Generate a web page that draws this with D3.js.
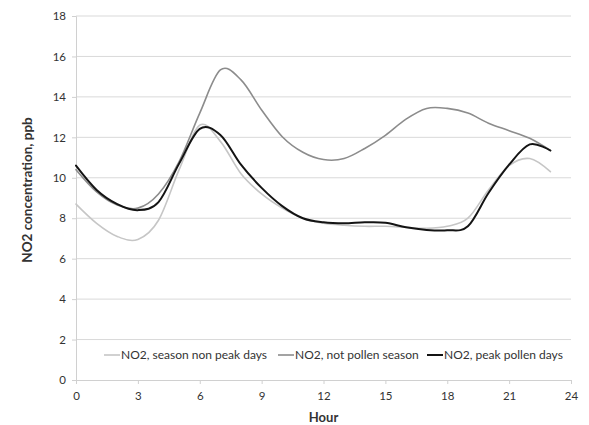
<!DOCTYPE html>
<html>
<head>
<meta charset="utf-8">
<script src="https://cdn.jsdelivr.net/npm/d3@7"></script>
<style>
  html, body { margin: 0; padding: 0; background: #fff; }
  svg { display: block; }
  text { font-family: Lato, "Open Sans", sans-serif; fill: #333; }
</style>
</head>
<body>
<svg id="chart" width="589" height="425"></svg>
<script>
const hours = d3.range(0, 24);
const seriesNames = ["NO2, season non peak days", "NO2, not pollen season", "NO2, peak pollen days"];
const seasonNonPeak = [8.7, 7.75, 7.1, 6.95, 7.9, 10.4, 12.6, 11.8, 10.2, 9.2, 8.5, 8.0, 7.75, 7.65, 7.6, 7.6, 7.55, 7.5, 7.6, 8.0, 9.4, 10.6, 10.95, 10.3];
const notPollen = [10.4, 9.3, 8.65, 8.5, 9.2, 10.8, 13.2, 15.33, 14.84, 13.35, 12.03, 11.26, 10.9, 10.95, 11.45, 12.1, 12.9, 13.43, 13.43, 13.2, 12.7, 12.33, 11.95, 11.35];
const peakPollen = [10.6, 9.4, 8.7, 8.4, 8.8, 10.7, 12.42, 12.12, 10.65, 9.5, 8.6, 8.0, 7.8, 7.75, 7.8, 7.78, 7.55, 7.42, 7.4, 7.6, 9.25, 10.65, 11.65, 11.35];
const xTicks = [0, 3, 6, 9, 12, 15, 18, 21, 24];
const yTicks = [0, 2, 4, 6, 8, 10, 12, 14, 16, 18];
const colors = ["#c6c6c6", "#8c8c8c", "#141414"];
const widths = [1.6, 1.6, 2.0];

const svg = d3.select("#chart");
const m = { left: 76, right: 571, top: 16, bottom: 380 };
const x = d3.scaleLinear().domain([0, 24]).range([m.left, m.right]);
const y = d3.scaleLinear().domain([0, 18]).range([m.bottom, m.top]);

// gridlines
svg.append("g").selectAll("line").data(yTicks.filter(d => d > 0)).join("line")
  .attr("x1", m.left).attr("x2", m.right)
  .attr("y1", d => y(d)).attr("y2", d => y(d))
  .attr("stroke", "#d9d9d9").attr("stroke-width", 1);

// y axis
const yAxis = svg.append("g").attr("transform", `translate(${m.left},0)`)
  .call(d3.axisLeft(y).tickValues(yTicks).tickSize(4).tickPadding(6));
yAxis.select(".domain").attr("stroke", "#d0d0d0");
yAxis.selectAll(".tick line").attr("stroke", "#d0d0d0");
yAxis.selectAll(".tick text").style("font-size", "11.5px").attr("fill", "#333");

// x axis
const xAxis = svg.append("g").attr("transform", `translate(0,${m.bottom})`)
  .call(d3.axisBottom(x).tickValues(xTicks).tickSize(4).tickPadding(8));
xAxis.select(".domain").attr("stroke", "#d0d0d0");
xAxis.selectAll(".tick line").attr("stroke", "#d0d0d0");
xAxis.selectAll(".tick text").style("font-size", "11.5px").attr("fill", "#333");

// lines
const line = d3.line().x((d, i) => x(hours[i])).y(d => y(d)).curve(d3.curveCatmullRom.alpha(0));
const allSeries = [seasonNonPeak, notPollen, peakPollen];
svg.append("g").selectAll("path").data(allSeries).join("path")
  .attr("d", d => line(d))
  .attr("fill", "none")
  .attr("stroke", (d, i) => colors[i])
  .attr("stroke-width", (d, i) => widths[i])
  .attr("stroke-linejoin", "round").attr("stroke-linecap", "round");

// legend
const legendX = [104, 278, 427];
const lg = svg.append("g").selectAll("g").data(seriesNames).join("g")
  .attr("transform", (d, i) => `translate(${legendX[i]},355)`);
lg.append("line").attr("x1", 0).attr("x2", 16).attr("y1", 0).attr("y2", 0)
  .attr("stroke", (d, i) => colors[i]).attr("stroke-width", (d, i) => widths[i]);
lg.append("text").attr("x", 17).attr("y", 4).style("font-size", "12px").attr("fill", "#333").text(d => d);

// axis titles
svg.append("text").attr("transform", "translate(32,190) rotate(-90)")
  .attr("text-anchor", "middle").style("font-size", "13.5px").style("font-weight", "bold")
  .attr("fill", "#1a1a1a").text("NO2 concentration, ppb");
svg.append("text").attr("x", x(12)).attr("y", 422)
  .attr("text-anchor", "middle").style("font-size", "13px").style("font-weight", "bold")
  .attr("fill", "#1a1a1a").text("Hour");
</script>
</body>
</html>
